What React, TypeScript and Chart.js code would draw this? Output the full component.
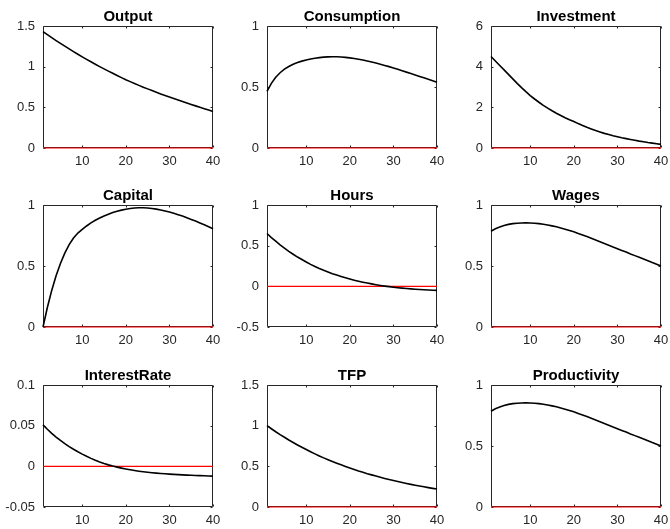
import React, { useEffect, useRef } from "react";
import { Chart, registerables } from "chart.js";

Chart.register(...registerables);

// ---------- data ----------
const periods = Array.from({ length: 40 }, (_, i) => i + 1);
const xTicks = [10, 20, 30, 40];

const output = [1.43, 1.393, 1.357, 1.321, 1.286, 1.252, 1.218, 1.185, 1.153, 1.121, 1.09, 1.06, 1.03, 1.001, 0.973, 0.945, 0.918, 0.891, 0.865, 0.839, 0.816, 0.793, 0.77, 0.748, 0.727, 0.706, 0.685, 0.665, 0.646, 0.627, 0.608, 0.59, 0.571, 0.553, 0.536, 0.518, 0.501, 0.483, 0.466, 0.45];
const consumption = [0.465, 0.53, 0.58, 0.617, 0.646, 0.668, 0.686, 0.7, 0.712, 0.722, 0.73, 0.736, 0.741, 0.745, 0.747, 0.748, 0.748, 0.746, 0.743, 0.739, 0.734, 0.728, 0.721, 0.713, 0.705, 0.696, 0.687, 0.677, 0.667, 0.656, 0.645, 0.634, 0.622, 0.611, 0.599, 0.587, 0.575, 0.563, 0.551, 0.539];
const investment = [4.5, 4.28, 4.06, 3.84, 3.62, 3.4, 3.18, 2.97, 2.77, 2.58, 2.41, 2.25, 2.1, 1.96, 1.83, 1.71, 1.6, 1.49, 1.39, 1.3, 1.2, 1.11, 1.02, 0.94, 0.86, 0.79, 0.72, 0.66, 0.6, 0.55, 0.5, 0.46, 0.42, 0.38, 0.34, 0.31, 0.27, 0.24, 0.21, 0.18];
const capital = [0, 0.16, 0.3, 0.42, 0.52, 0.605, 0.675, 0.73, 0.77, 0.8, 0.828, 0.853, 0.875, 0.894, 0.91, 0.925, 0.938, 0.949, 0.958, 0.965, 0.971, 0.975, 0.977, 0.977, 0.975, 0.971, 0.966, 0.959, 0.951, 0.942, 0.932, 0.921, 0.909, 0.896, 0.882, 0.868, 0.853, 0.838, 0.822, 0.805];
const hours = [0.65, 0.6, 0.555, 0.51, 0.47, 0.43, 0.395, 0.36, 0.33, 0.3, 0.27, 0.245, 0.22, 0.197, 0.176, 0.156, 0.138, 0.121, 0.105, 0.09, 0.076, 0.063, 0.051, 0.04, 0.03, 0.02, 0.011, 0.003, -0.004, -0.011, -0.017, -0.022, -0.027, -0.031, -0.035, -0.039, -0.042, -0.045, -0.048, -0.05];
const wages = [0.785, 0.805, 0.82, 0.832, 0.841, 0.847, 0.851, 0.853, 0.854, 0.853, 0.851, 0.847, 0.842, 0.836, 0.829, 0.821, 0.812, 0.802, 0.791, 0.78, 0.767, 0.754, 0.741, 0.727, 0.713, 0.699, 0.685, 0.671, 0.656, 0.642, 0.628, 0.614, 0.599, 0.585, 0.571, 0.557, 0.543, 0.528, 0.514, 0.5];
const interestRate = [0.051, 0.0456, 0.0406, 0.036, 0.0318, 0.0279, 0.0243, 0.021, 0.0179, 0.015, 0.0123, 0.0098, 0.0075, 0.0054, 0.0035, 0.0018, 0.0003, -0.001, -0.0022, -0.0033, -0.0043, -0.0052, -0.006, -0.0067, -0.0073, -0.0079, -0.0084, -0.0088, -0.0092, -0.0096, -0.0099, -0.0102, -0.0105, -0.0108, -0.011, -0.0112, -0.0114, -0.0116, -0.0118, -0.012];
const tfp = [1.0, 0.962, 0.925, 0.89, 0.857, 0.824, 0.793, 0.763, 0.734, 0.706, 0.679, 0.653, 0.628, 0.604, 0.581, 0.559, 0.538, 0.518, 0.498, 0.479, 0.461, 0.443, 0.427, 0.41, 0.395, 0.38, 0.365, 0.351, 0.338, 0.325, 0.313, 0.301, 0.289, 0.278, 0.268, 0.258, 0.248, 0.238, 0.229, 0.221];
const productivity = [0.785, 0.805, 0.82, 0.832, 0.841, 0.847, 0.851, 0.853, 0.854, 0.853, 0.851, 0.847, 0.842, 0.836, 0.829, 0.821, 0.812, 0.802, 0.791, 0.78, 0.767, 0.754, 0.741, 0.727, 0.713, 0.699, 0.685, 0.671, 0.656, 0.642, 0.628, 0.614, 0.599, 0.585, 0.571, 0.557, 0.543, 0.528, 0.514, 0.5];
const zeroLine = periods.map(() => 0);

const outputTicks = [0, 0.5, 1, 1.5];
const consumptionTicks = [0, 0.5, 1];
const investmentTicks = [0, 2, 4, 6];
const capitalTicks = [0, 0.5, 1];
const hoursTicks = [-0.5, 0, 0.5, 1];
const wagesTicks = [0, 0.5, 1];
const interestTicks = [-0.05, 0, 0.05, 0.1];
const tfpTicks = [0, 0.5, 1, 1.5];
const productivityTicks = [0, 0.5, 1];

const panels = [
  { title: "Output", values: output, ticks: outputTicks },
  { title: "Consumption", values: consumption, ticks: consumptionTicks },
  { title: "Investment", values: investment, ticks: investmentTicks },
  { title: "Capital", values: capital, ticks: capitalTicks },
  { title: "Hours", values: hours, ticks: hoursTicks },
  { title: "Wages", values: wages, ticks: wagesTicks },
  { title: "InterestRate", values: interestRate, ticks: interestTicks },
  { title: "TFP", values: tfp, ticks: tfpTicks },
  { title: "Productivity", values: productivity, ticks: productivityTicks },
];

// ---------- layout ----------
const colLeft = [43, 267, 491];
const rowTop = [26, 205, 385];
const PLOT_W = 170;
const PLOT_H = 122;
const L = 45;
const T = 28;
const R = 14;
const B = 24;
const FONT = '"Liberation Sans", Arial, Helvetica, sans-serif';
const AXIS_COLOR = "#262626";

const boxPlugin = {
  id: "matlabBox",
  beforeDatasetsDraw(chart: any) {
    const { ctx, chartArea, scales } = chart;
    const l = Math.round(chartArea.left) + 0.5;
    const r = Math.round(chartArea.right) - 0.5;
    const t = Math.round(chartArea.top) + 0.5;
    const b = Math.round(chartArea.bottom) - 0.5;
    const tl = 2;
    ctx.save();
    ctx.strokeStyle = AXIS_COLOR;
    ctx.lineWidth = 1;
    ctx.beginPath();
    ctx.rect(l, t, r - l, b - t);
    ctx.stroke();
    ctx.beginPath();
    for (const tk of scales.x.ticks) {
      const px = Math.round(scales.x.getPixelForValue(tk.value)) + 0.5;
      ctx.moveTo(px, b);
      ctx.lineTo(px, b - tl);
      ctx.moveTo(px, t);
      ctx.lineTo(px, t + tl);
    }
    for (const tk of scales.y.ticks) {
      const py = Math.round(scales.y.getPixelForValue(tk.value)) + 0.5;
      ctx.moveTo(l, py);
      ctx.lineTo(l + tl, py);
      ctx.moveTo(r, py);
      ctx.lineTo(r - tl, py);
    }
    ctx.stroke();
    ctx.restore();
  },
};

function fmt(v: number) {
  return String(Math.round(v * 10000) / 10000);
}

function Panel({ p, left, top }: any) {
  const ref = useRef<HTMLCanvasElement | null>(null);
  const W = L + PLOT_W + R;
  const H = T + PLOT_H + B;
  useEffect(() => {
    const yTicks: number[] = p.ticks;
    const chart = new Chart(ref.current as HTMLCanvasElement, {
      type: "line",
      data: {
        datasets: [
          {
            data: p.values.map((v: number, i: number) => ({ x: periods[i], y: v })),
            borderColor: "#000000",
            borderWidth: 1.6,
            pointRadius: 0,
            tension: 0,
            clip: false as any,
          },
          {
            data: zeroLine.map((v, i) => ({ x: periods[i], y: v })),
            borderColor: "#ff0000",
            borderWidth: 1.2,
            pointRadius: 0,
            tension: 0,
            clip: false as any,
          },
        ],
      },
      options: {
        animation: false,
        responsive: false,
        events: [],
        layout: { padding: { left: 0, right: R, top: 0, bottom: 0 } },
        plugins: {
          legend: { display: false },
          tooltip: { enabled: false },
          title: {
            display: true,
            fullSize: false,
            text: p.title,
            color: "#000000",
            font: { family: FONT, size: 15, weight: "bold", lineHeight: 1.2 },
            padding: { top: 10, bottom: 0 },
          },
        },
        scales: {
          x: {
            type: "linear",
            min: 1,
            max: 40,
            grid: { display: false, drawTicks: false },
            border: { display: false },
            afterBuildTicks: (s: any) => {
              s.ticks = xTicks.map((v) => ({ value: v }));
            },
            afterFit: (s: any) => {
              s.height = B;
            },
            ticks: {
              autoSkip: false,
              maxRotation: 0,
              padding: 6,
              color: AXIS_COLOR,
              font: { family: FONT, size: 13 },
              callback: (v: any) => fmt(Number(v)),
            },
          },
          y: {
            type: "linear",
            min: yTicks[0],
            max: yTicks[yTicks.length - 1],
            grid: { display: false, drawTicks: false },
            border: { display: false },
            afterBuildTicks: (s: any) => {
              s.ticks = yTicks.map((v) => ({ value: v }));
            },
            afterFit: (s: any) => {
              s.width = L;
            },
            ticks: {
              autoSkip: false,
              padding: 8,
              color: AXIS_COLOR,
              font: { family: FONT, size: 13 },
              callback: (v: any) => fmt(Number(v)),
            },
          },
        },
      },
      plugins: [boxPlugin],
    } as any);
    return () => chart.destroy();
  }, []);
  return (
    <canvas
      ref={ref}
      width={W}
      height={H}
      style={{ position: "absolute", left: left - L, top: top - T, width: W, height: H }}
    />
  );
}

export default function App() {
  return (
    <div style={{ position: "absolute", left: 0, top: 0, width: 670, height: 529, background: "#ffffff", overflow: "hidden" }}>
      {panels.map((p, i) => (
        <Panel key={p.title} p={p} left={colLeft[i % 3]} top={rowTop[Math.floor(i / 3)]} />
      ))}
    </div>
  );
}
